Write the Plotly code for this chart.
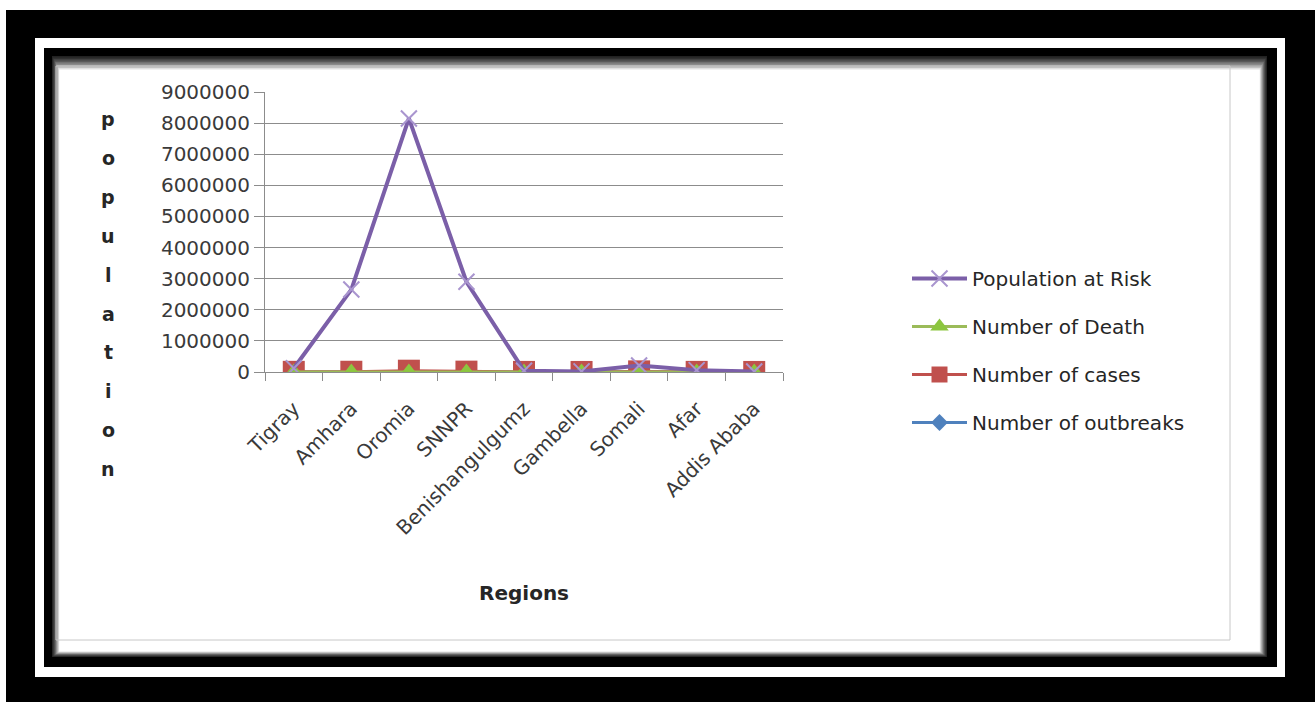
import plotly.graph_objects as go

W, H = 1315, 702

regions = ["Tigray", "Amhara", "Oromia", "SNNPR", "Benishangulgumz",
           "Gambella", "Somali", "Afar", "Addis Ababa"]

population_at_risk = [120000, 2650000, 8150000, 2900000, 40000,
                      20000, 210000, 60000, 15000]
number_of_death = [300, 500, 1800, 700, 150, 80, 900, 200, 60]
number_of_cases = [5000, 8000, 42000, 12000, 3000, 1500, 20000, 4000, 2000]
number_of_outbreaks = [12, 20, 45, 30, 6, 4, 18, 8, 3]

y_ticks = [0, 1000000, 2000000, 3000000, 4000000, 5000000,
           6000000, 7000000, 8000000, 9000000]
y_title = "population"
x_title = "Regions"

FONT = "DejaVu Sans"
TEXT = "#3a3a3a"
GRID = "#8c8c8c"


def px(x):
    return x / W


def py(y):
    return 1 - y / H


fig = go.Figure()

# drawn bottom-up so the population line sits on top
fig.add_trace(go.Scatter(
    x=regions, y=number_of_outbreaks, name="Number of outbreaks",
    mode="lines+markers", legendgroup="d", legendrank=4,
    line=dict(color="#4f81bd", width=3),
    marker=dict(symbol="diamond", size=13, color="#4f81bd"),
))
fig.add_trace(go.Scatter(
    x=regions, y=number_of_cases, name="Number of cases",
    mode="lines+markers", legendgroup="c", legendrank=3,
    line=dict(color="#c0504d", width=3),
    marker=dict(symbol="square", size=22, color="#c0504d"),
))
fig.add_trace(go.Scatter(
    x=regions, y=number_of_death, name="Number of Death",
    mode="lines+markers", legendgroup="b", legendrank=2,
    line=dict(color="#9bbb59", width=3),
    marker=dict(symbol="triangle-up", size=17, color="#8cc63f"),
))
fig.add_trace(go.Scatter(
    x=regions, y=population_at_risk, name="Population at Risk",
    mode="lines+markers", legendgroup="a", legendrank=1,
    line=dict(color="#7b5fa8", width=4),
    marker=dict(symbol="x-thin", size=16, color="#a995cf",
                line=dict(color="#a995cf", width=2)),
))

# picture frame: outer black, white stripe, inner black with inset shadow
shapes = [
    dict(type="rect", x0=px(6), x1=px(1315), y0=py(10), y1=py(702),
         fillcolor="black", line=dict(width=0)),
    dict(type="rect", x0=px(35), x1=px(1285), y0=py(38), y1=py(677),
         fillcolor="white", line=dict(width=0)),
    dict(type="rect", x0=px(44), x1=px(1277), y0=py(48), y1=py(667),
         fillcolor="black", line=dict(width=0)),
]
steps = 10
for i in range(steps):
    g = int(25 + (255 - 25) * ((i + 1) / steps) ** 1.4)
    col = f"rgb({g},{g},{g})"
    shapes.append(dict(
        type="rect",
        x0=px(52 + i * 0.8), x1=px(1267 - i * 0.8),
        y0=py(56 + i * 1.5), y1=py(657 - i * 0.6),
        fillcolor=col, line=dict(width=0)))
shapes.append(dict(type="rect", x0=px(60), x1=px(1259), y0=py(71), y1=py(651),
                   fillcolor="white", line=dict(width=0)))
# chart area outline
shapes.append(dict(type="rect", x0=px(56), x1=px(1230), y0=py(66), y1=py(640),
                   fillcolor="rgba(0,0,0,0)",
                   line=dict(color="#c8c8c8", width=1)))
for s in shapes:
    s["xref"] = "paper"
    s["yref"] = "paper"
    s["layer"] = "below"

annotations = []
# vertical stacked axis title
for i, ch in enumerate(y_title):
    annotations.append(dict(
        text=f"<b>{ch}</b>", x=px(108), y=py(119 + i * 38.9),
        xref="paper", yref="paper", showarrow=False,
        xanchor="center", yanchor="middle",
        font=dict(family=FONT, size=19, color="#262626")))
annotations.append(dict(
    text=f"<b>{x_title}</b>", x=px(524), y=py(593),
    xref="paper", yref="paper", showarrow=False,
    xanchor="center", yanchor="middle",
    font=dict(family=FONT, size=20, color="#262626")))

fig.update_layout(
    width=W, height=H,
    margin=dict(l=0, r=0, t=0, b=0, pad=0, autoexpand=False),
    paper_bgcolor="white",
    plot_bgcolor="rgba(0,0,0,0)",
    font=dict(family=FONT, size=20, color=TEXT),
    shapes=shapes,
    annotations=annotations,
    showlegend=True,
    legend=dict(
        x=px(907), y=py(259), xanchor="left", yanchor="top",
        bgcolor="rgba(0,0,0,0)", traceorder="grouped",
        tracegroupgap=19, itemwidth=55,
        font=dict(family=FONT, size=20, color="#262626"),
    ),
    xaxis=dict(
        domain=[px(265), px(783)],
        type="category", range=[-0.5, 8.5], automargin=False,
        showgrid=False, showline=True, linecolor=GRID, linewidth=1,
        ticks="outside", ticklen=8, tickcolor=GRID, tickson="boundaries",
        ticklabelstandoff=16,
        tickangle=-45, tickfont=dict(family=FONT, size=20, color=TEXT),
    ),
    yaxis=dict(
        domain=[py(372), py(92)],
        range=[0, 9000000], automargin=False,
        tickvals=y_ticks, ticktext=[str(v) for v in y_ticks],
        showgrid=True, gridcolor=GRID, gridwidth=1,
        zeroline=False,
        showline=True, linecolor=GRID, linewidth=1,
        ticks="outside", ticklen=10, tickcolor=GRID,
        tickfont=dict(family=FONT, size=20, color=TEXT),
    ),
)

fig.write_html("out.html")
